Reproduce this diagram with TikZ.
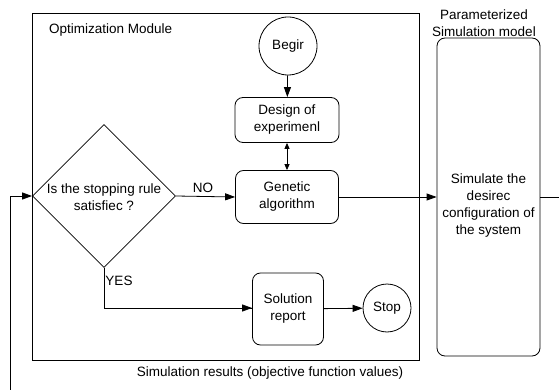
\documentclass[tikz,border=0pt]{standalone}
\usepackage{fontspec}
\setmainfont{Liberation Sans}
\usetikzlibrary{arrows.meta,shapes.geometric}
\begin{document}
\begin{tikzpicture}[x=1pt,y=-1pt,
  every node/.style={font=\fontsize{13.5}{17}\selectfont, align=center},
  line/.style={draw=black, line width=0.8pt},
  arr/.style={line, -{Triangle[length=10pt,width=7pt]}},
  darr/.style={line, {Triangle[length=6pt,width=5pt]}-{Triangle[length=6pt,width=5pt]}},
  rbox/.style={draw, line width=0.8pt, rounded corners=8pt, inner sep=0pt},
  circ/.style={draw, line width=0.8pt, circle, inner sep=0pt},
  decision/.style={draw, line width=0.8pt, diamond, inner sep=0pt, minimum width=143pt, minimum height=143pt},
  plain/.style={inner sep=0pt}
]
\useasboundingbox (0,0) rectangle (559,390);
\fill[white] (0,0) rectangle (559,390);

% optimization module frame
\node[draw, line width=0.8pt, minimum width=387pt, minimum height=347pt, inner sep=0pt] (opt) at (225.5,186.5) {};
\node[plain, anchor=west] (optT) at (49,30) {Optimization Module};

\node[circ, minimum size=58pt] (begin) at (288,46) {Begir};
\node[rbox, minimum width=104pt, minimum height=45pt] (doe) at (287,120) {Design of\\experimenl};
\node[rbox, minimum width=103pt, minimum height=53pt] (ga) at (287,197) {Genetic\\algorithm};
\node[decision] (dec) at (104,196) {};
\node[plain] (decT) at (104,197) {Is the stopping rule\\satisfiec ?};
\node[rbox, minimum width=71pt, minimum height=72pt] (sol) at (288,309) {Solution\\report};
\node[circ, minimum size=48pt] (stop) at (387,308) {Stop};

% simulation model
\node[plain] (simT) at (484,23) {Parameterized\\Simulation model};
\node[rbox, minimum width=103pt, minimum height=318pt] (sim) at (488.5,197) {};
\node[plain] (simX) at (488.5,206) {Simulate the\\desirec\\configuration of\\the system};

\node[plain] (res) at (270,373) {Simulation results (objective function values)};

\node[plain] (no) at (203,188) {NO};
\node[plain] (yes) at (119,281) {YES};

\coordinate (fbR) at (559,197);
\coordinate (fbB) at (10,390);
\coordinate (fbM) at (10,196);
\coordinate (yesC) at (104,308);

\draw[arr] (begin) -- (doe);
\draw[darr] (doe) -- (ga);
\draw[arr] (dec.east) -- (ga.west);
\draw[arr] (ga.east) -- (ga.east -| sim.west);
\draw[line] (sim.east |- fbR) -- (fbR);
\draw[line] (dec.south) -- (yesC) -- (yesC -| sol.west);
\draw[arr] (yesC) -- (yesC -| sol.west);
\draw[arr] (sol) -- (stop);
\draw[line] (fbB) -- (fbM);
\draw[arr] (fbM) -- (dec.west);
\end{tikzpicture}
\end{document}
